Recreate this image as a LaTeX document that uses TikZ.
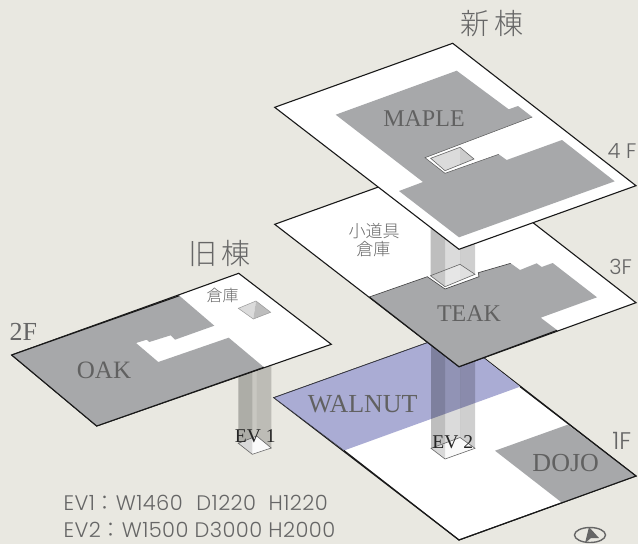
\documentclass[tikz,border=0pt]{standalone}
\usepackage{fontspec}
\setmainfont{Liberation Serif}
\newfontfamily\thinsans[UprightFont=* Light]{Poppins}
\newfontfamily\thinspec[UprightFont=* Light,LetterSpace=2]{Poppins}
\newfontfamily\cjkfont{Noto Sans CJK JP Light}
\definecolor{paper}{HTML}{E9E8E1}
\definecolor{roomgrey}{HTML}{A7A8AA}
\definecolor{walnutblue}{HTML}{AAACD4}
\definecolor{inkgrey}{HTML}{666666}
\tikzset{
  plate/.style={fill=white,draw=black!90,line width=1.1pt,line join=miter},
  room/.style={fill=roomgrey},
  wallpart/.style={fill=black,draw=none},
  floorline/.style={draw=black!60,line width=.6pt},
  roomlabel/.style={font=\fontsize{#1}{#1}\selectfont,text=black!62},
  evlabel/.style={font=\fontsize{19.5}{19.5}\selectfont,text=black!85},
  floorlabel/.style={font=\thinsans\fontsize{#1}{#1}\selectfont,text=inkgrey},
  cjklabel/.style={font=\cjkfont\fontsize{#1}{#1}\selectfont,text=black!60,align=center},
  speclabel/.style={font=\thinspec\fontsize{21}{21}\selectfont,text=inkgrey,anchor=west}
}
% left x, front x, back x, right x, top y, left y, front y, back y, right y
\newcommand{\shaftwalls}[9]{%
  \fill[wallpart,opacity=.15] (#1,#5)--(#2,#5)--(#2,#7)--(#1,#6)--cycle;
  \fill[wallpart,opacity=.02] (#2,#5)--(#4,#5)--(#4,#9)--(#2,#7)--cycle;
  \fill[wallpart,opacity=.12] (#1,#5)--(#3,#5)--(#3,#8)--(#1,#6)--cycle;
  \fill[wallpart,opacity=.17] (#3,#5)--(#4,#5)--(#4,#9)--(#3,#8)--cycle;
  \draw[floorline] (#1,#6)--(#3,#8)--(#4,#9)--(#2,#7)--cycle;
}
\newcommand{\speccolon}{{\cjkfont ：}}
% a word of the first spec line, set out to the width it has in the second
\newcommand{\specword}[2]{\makebox[#1][s]{#2}}
\begin{document}
\begin{tikzpicture}[x=1pt,y=-1pt]
\useasboundingbox (0,0) rectangle (638,544);
\fill[paper] (0,0) rectangle (638,544);

% 1F
\draw[plate] (274,397.7)--(452.7,333.7)--(636,476)--(459,540)--cycle;
\fill[walnutblue] (274,397.7)--(452.7,333.7)--(520,386.7)--(344,450.5)--cycle;
\draw[black!70!walnutblue,line width=.5pt] (344,450.5)--(274,397.7)--(452.7,333.7);
\fill[room] (567.7,424.7)--(636,476)--(562,502.7)--(495,450.7)--cycle;
\draw[black!90,line width=1.1pt] (520,386.7)--(636,476)--(459,540)--(344,450.5);
\shaftwalls{431}{445}{460}{475}{335}{448.3}{459}{437.5}{448.3}

% 2F shaft
\fill[white] (238.3,443.3)--(256.7,436)--(271.3,448)--(252.3,454.3)--cycle;
\shaftwalls{238.3}{252.3}{256.7}{271.3}{340}{443.3}{454.3}{436}{448}

% 2F
\draw[plate] (238.7,273.3)--(11.7,355)--(96.7,426)--(331.3,344.3)--cycle;
\fill[room] (11.7,355)--(179.3,295.7)--(214.3,325.7)--(175,339.7)--(170.7,335.3)--(149.3,342)--(146.7,339.7)--(136,343)--(158.3,362)--(228.7,337.7)--(264,367.3)--(96.7,426)--cycle;
\draw[black!90,line width=1.1pt] (11.7,355)--(179.3,295.7);
\draw[black!90,line width=1.1pt] (11.7,355)--(96.7,426)--(264,367.3);
\fill[black!14] (238.3,308.3)--(256,301)--(253.3,319)--cycle;
\fill[black!26] (256,301)--(270.7,312.3)--(253.3,319)--cycle;
\draw[black!40,line width=.5pt] (238.3,308.3)--(256,301)--(270.7,312.3)--(253.3,319)--cycle;

% 3F
\draw[plate] (274.7,224.3)--(452.7,160.3)--(636,302.7)--(459,366.7)--cycle;
\fill[room] (369.3,297)--(427.3,276.7)--(445,289)--(479,276.7)--(478.3,272.7)--(510.7,263.3)--(520,270)--(536.7,263.3)--(541.7,267)--(552.7,263)--(597,297.3)--(540.7,317.7)--(557.3,330.3)--(459,366.7)--cycle;
\draw[black!90,line width=1.1pt] (369.3,297)--(459,366.7)--(557.3,330.3);
\draw[black!75,line width=.6pt] (369.3,297)--(427.3,276.7)--(445,289)--(479,276.7)--(478.3,272.7)--(510.7,263.3);
\fill[black!8] (430.5,275.7)--(460,264.3)--(475,274.3)--(445,286.7)--cycle;
\fill[black!10] (460,264.3)--(475,274.3)--(460,280.5)--cycle;
\shaftwalls{430.5}{445}{460}{475}{225}{275.7}{286.7}{264.3}{274.3}

% 4F
\draw[plate] (452.7,43.3)--(274.7,107.3)--(459,249.3)--(636,185.7)--cycle;
\fill[room] (456.7,70.7)--(508.7,109.3)--(518,106)--(532.3,117)--(425,157.7)--(445,173.3)--(498.7,154.3)--(506.7,160)--(562,140)--(614.7,181.3)--(459,237.3)--(399,191)--(423,182)--(335.7,114.7)--cycle;
\draw[black!65,line width=.5pt] (532.3,117)--(425,157.7)--(445,173.3)--(498.7,154.3);
\fill[black!14] (430.7,158.3)--(460,147.3)--(460,165)--(445,170.7)--cycle;
\fill[black!20] (460,147.3)--(474,159)--(460,165)--cycle;
\draw[floorline] (430.7,158.3)--(460,147.3)--(474,159)--(445,170.7)--cycle;

% labels
\node[roomlabel=24] (maple) at (424,119) {MAPLE};
\node[roomlabel=24] (teak) at (469,314) {TEAK};
\node[roomlabel=26] (walnut) at (362.7,404) {WALNUT};
\node[roomlabel=26] (dojo) at (565.7,462.7) {DOJO};
\node[roomlabel=25] (oak) at (104,370) {OAK};
\node[evlabel] (evtwo) at (452.7,441.7) {EV 2};
\node[evlabel] (evone) at (255.3,436.7) {EV 1};
\node[floorlabel=21] (ffour) at (622,151) {4 F};
\node[floorlabel=21] (fthree) at (620.7,266.7) {3F};
\node[floorlabel=24] (fone) at (621.7,440.7) {1F};
\node[roomlabel=26,text=inkgrey] (ftwo) at (23.3,331.7) {2F};
\node[cjklabel=29,text=inkgrey] (newbldg) at (491.7,23.5) {新\,棟};
\node[cjklabel=29,text=inkgrey] (oldbldg) at (219.5,253.5) {旧\,棟};
\node[cjklabel=17] (props) at (374,231) {小道具};
\node[cjklabel=17] (store) at (373.3,249.3) {倉庫};
\node[cjklabel=16] (oldstore) at (222.7,295.7) {倉庫};
\node[speclabel] (specone) at (60,503.3) {EV1\speccolon W1460\hspace{7.5pt} D1220\hspace{6.5pt} H1220};
\node[speclabel] (spectwo) at (60,530) {EV2\speccolon W1500 D3000 H2000};

% compass
\draw[inkgrey,line width=1.4pt] (590,535) ellipse [x radius=15.5,y radius=7.5];
\fill[inkgrey] (589,527)--(599,538)--(591,538)--(585,543)--cycle;
\end{tikzpicture}
\end{document}
